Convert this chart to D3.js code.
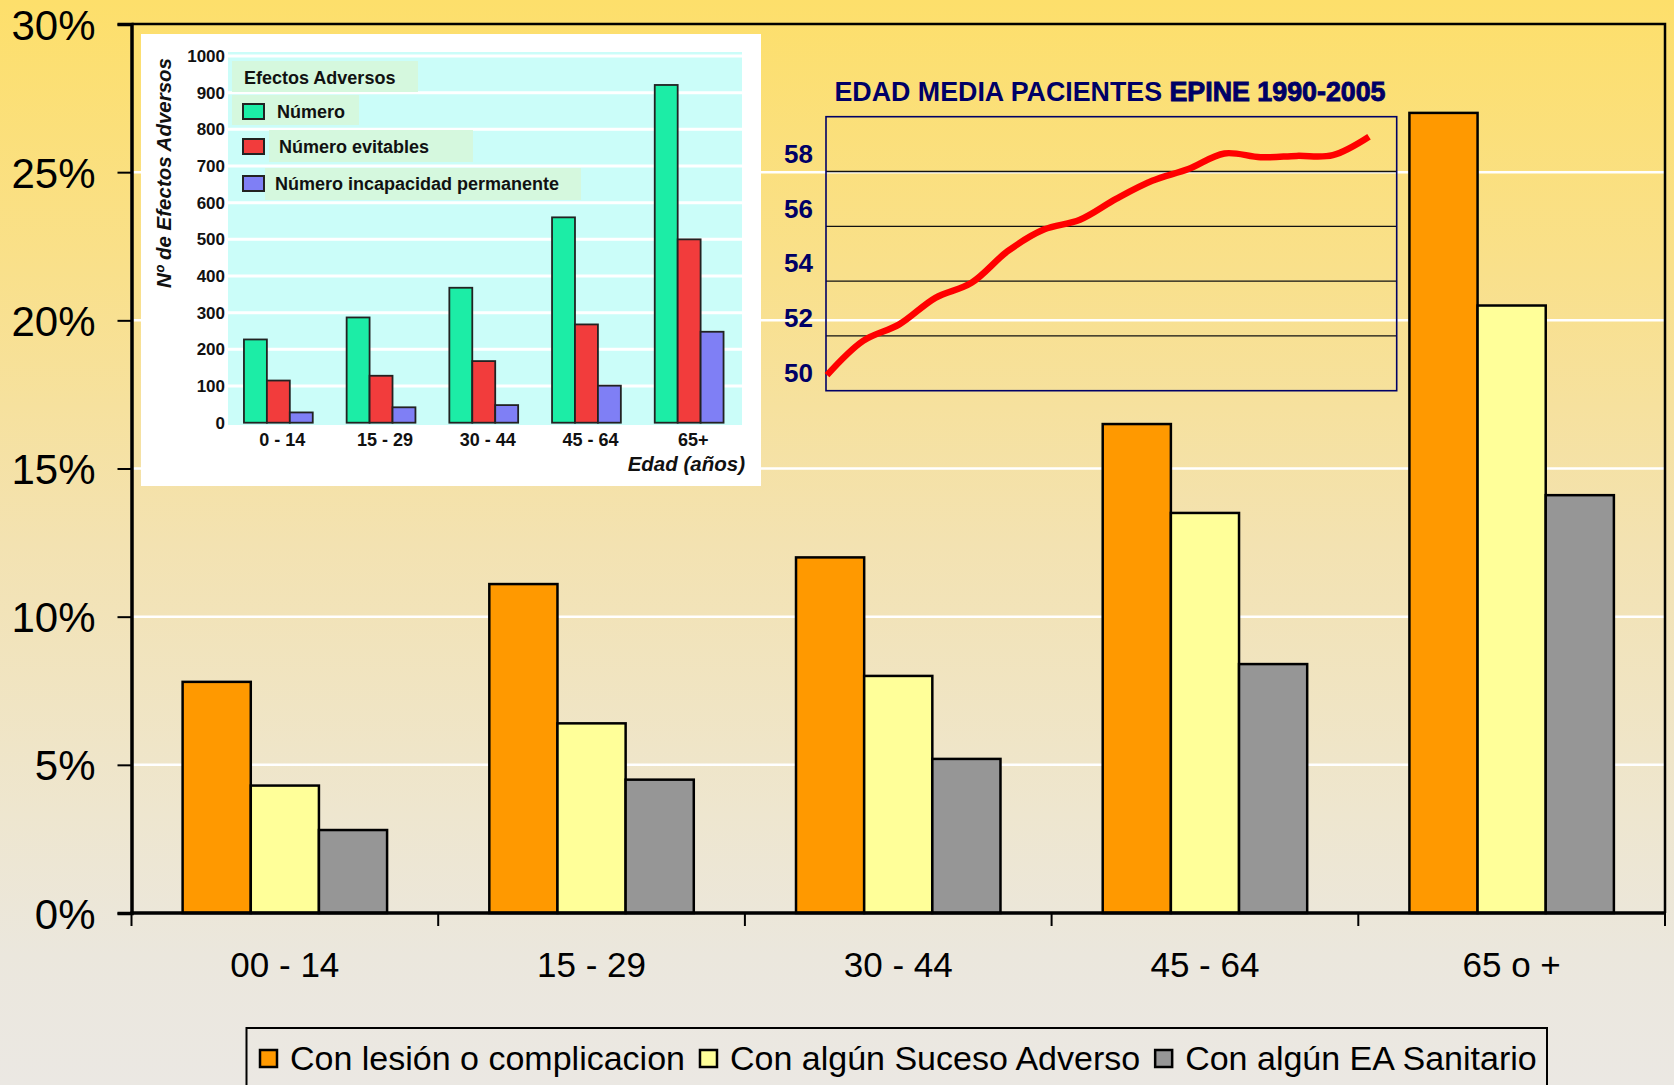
<!DOCTYPE html>
<html>
<head>
<meta charset="utf-8">
<script src="https://cdn.jsdelivr.net/npm/d3@7"></script>
<style>
  html, body { margin: 0; padding: 0; background: #EBE8E2; }
  svg { display: block; }
  text { font-family: "Liberation Sans", Arial, Helvetica, sans-serif; }
</style>
</head>
<body>
<svg id="chart" width="1674" height="1085"></svg>
<script>
// ---------- Main chart data ----------
const categories = ["00 - 14", "15 - 29", "30 - 44", "45 - 64", "65 o +"];
const seriesNames = ["Con lesión o complicacion", "Con algún Suceso Adverso", "Con algún EA Sanitario"];
const lesion    = [7.8, 11.1, 12.0, 16.5, 27.0];
const suceso    = [4.3, 6.4, 8.0, 13.5, 20.5];
const sanitario = [2.8, 4.5, 5.2, 8.4, 14.1];
const yTicks = [0, 5, 10, 15, 20, 25, 30];
const seriesColors = ["#FF9900", "#FFFF99", "#969696"];

// ---------- Inset 1 (Efectos Adversos) data ----------
const eaCategories = ["0 - 14", "15 - 29", "30 - 44", "45 - 64", "65+"];
const eaSeriesNames = ["Número", "Número evitables", "Número incapacidad permanente"];
const eaNumero      = [227, 287, 368, 560, 921];
const eaEvitables   = [115, 128, 168, 268, 500];
const eaIncapacidad = [28, 42, 48, 101, 248];
const eaTicks = [0, 100, 200, 300, 400, 500, 600, 700, 800, 900, 1000];
const eaColors = ["#1CEDA6", "#F23C3C", "#7F7FF5"];

// ---------- Inset 2 (Edad media) data ----------
const anios = [1990, 1991, 1992, 1993, 1994, 1995, 1996, 1997, 1998, 1999, 2000, 2001, 2002, 2003, 2004, 2005];
const edadMedia = [50.57, 51.82, 52.42, 53.39, 53.94, 55.09, 55.88, 56.24, 57.0, 57.66, 58.09, 58.66, 58.52, 58.57, 58.6, 59.27];
const edadTicks = [50, 52, 54, 56, 58];

const svg = d3.select("#chart");
const W = 1674, H = 1085;

// ---------- Background gradient ----------
const defs = svg.append("defs");
const grad = defs.append("linearGradient").attr("id", "bg").attr("x1", 0).attr("y1", 0).attr("x2", 0).attr("y2", 1);
[[0, "#FDDF6B"], [0.25, "#F9E08B"], [0.5, "#F3E2B1"], [0.75, "#EEE6CF"], [0.88, "#EBE7DD"], [1, "#EBE8E3"]]
  .forEach(([o, c]) => grad.append("stop").attr("offset", o).attr("stop-color", c));
svg.append("rect").attr("width", W).attr("height", H).attr("fill", "url(#bg)");

// ---------- Main scales ----------
const plotL = 131.5, plotR = 1665, plotT = 24, plotB = 913;
const x0 = d3.scaleBand().domain(categories).range([plotL, plotR]).paddingInner(1/3).paddingOuter(1/6);
const x1 = d3.scaleBand().domain(seriesNames).range([0, x0.bandwidth()]).padding(0);
const y = d3.scaleLinear().domain([0, 30]).range([plotB, plotT]);

// gridlines
svg.append("g").selectAll("line").data(yTicks.filter(t => t > 0 && t < 30)).join("line")
  .attr("x1", plotL).attr("x2", plotR).attr("y1", d => y(d)).attr("y2", d => y(d))
  .attr("stroke", "#FFFFFF").attr("stroke-width", 2.5);

// bars
const seriesData = [lesion, suceso, sanitario];
const groups = svg.append("g").selectAll("g").data(categories).join("g")
  .attr("transform", d => `translate(${x0(d)},0)`);
groups.selectAll("rect").data((c, i) => seriesNames.map((s, j) => ({ s, v: seriesData[j][i], j })))
  .join("rect")
  .attr("x", d => x1(d.s)).attr("width", x1.bandwidth())
  .attr("y", d => y(d.v)).attr("height", d => y(0) - y(d.v))
  .attr("fill", d => seriesColors[d.j]).attr("stroke", "#000").attr("stroke-width", 2.5);

// plot border (top/right)
svg.append("path").attr("d", `M${plotL},${plotT}H${plotR}V${plotB}`)
  .attr("fill", "none").attr("stroke", "#000").attr("stroke-width", 2.5);

// y axis
const yAxis = d3.axisLeft(y).tickValues(yTicks).tickSize(14).tickPadding(22).tickFormat(d => d + "%");
const gy = svg.append("g").attr("transform", `translate(${plotL},0)`).call(yAxis);
gy.select(".domain").attr("stroke", "#000").attr("stroke-width", 3.5);
gy.selectAll(".tick line").attr("stroke", "#000").attr("stroke-width", 2);
gy.selectAll(".tick text").attr("font-size", 42).attr("fill", "#000")
  .style("font-family", "'Liberation Sans', Arial, sans-serif").attr("dy", "0.36em");

// x axis baseline + ticks at category boundaries
svg.append("line").attr("x1", plotL - 1).attr("x2", plotR).attr("y1", plotB).attr("y2", plotB)
  .attr("stroke", "#000").attr("stroke-width", 3.5);
const edges = categories.map(c => x0(c) - x0.step() * x0.paddingOuter()).concat([plotR]);
svg.append("g").selectAll("line").data(edges).join("line")
  .attr("x1", d => d).attr("x2", d => d).attr("y1", plotB).attr("y2", plotB + 13)
  .attr("stroke", "#000").attr("stroke-width", 2);
svg.append("g").selectAll("text").data(categories).join("text")
  .attr("x", d => x0(d) + x0.bandwidth() / 2).attr("y", 977)
  .attr("text-anchor", "middle").attr("font-size", 35).attr("fill", "#000").text(d => d);

// legend
const lg = svg.append("g");
lg.append("rect").attr("x", 246.5).attr("y", 1028).attr("width", 1300.5).attr("height", 80)
  .attr("fill", "none").attr("stroke", "#000").attr("stroke-width", 2);
let lx = 260;
seriesNames.forEach((n, i) => {
  lg.append("rect").attr("x", lx).attr("y", 1050).attr("width", 17).attr("height", 17)
    .attr("fill", seriesColors[i]).attr("stroke", "#000").attr("stroke-width", 2.5);
  const t = lg.append("text").attr("x", lx + 30).attr("y", 1070).attr("font-size", 34).attr("fill", "#000").text(n);
  lx = lx + 30 + t.node().getComputedTextLength() + 15;
});

// ---------- Inset 1 ----------
const in1 = svg.append("g");
in1.append("rect").attr("x", 141).attr("y", 34).attr("width", 620).attr("height", 452).attr("fill", "#FFFFFF");
in1.append("rect").attr("x", 228).attr("y", 52).attr("width", 514).attr("height", 373).attr("fill", "#CBFDF9");
const ey = d3.scaleLinear().domain([0, 1000]).range([422.7, 56]);
const ex0 = d3.scaleBand().domain(eaCategories).range([227, 740.5]).paddingInner(0.33).paddingOuter(0.165);
const ex1 = d3.scaleBand().domain(eaSeriesNames).range([0, ex0.bandwidth()]).padding(0);
in1.append("g").selectAll("line").data(eaTicks.filter(t => t > 0)).join("line")
  .attr("x1", 228).attr("x2", 742).attr("y1", d => ey(d)).attr("y2", d => ey(d))
  .attr("stroke", "#FFFFFF").attr("stroke-width", 3);
// legend backgrounds
const lbg = "#D5F8DE";
[[232, 61, 186, 31], [232, 95, 127, 30], [269, 130, 204, 32], [265, 168, 316, 32]].forEach(r =>
  in1.append("rect").attr("x", r[0]).attr("y", r[1]).attr("width", r[2]).attr("height", r[3]).attr("fill", lbg));
in1.append("text").attr("x", 244).attr("y", 84).attr("font-size", 18).attr("font-weight", "bold").attr("fill", "#111").text("Efectos Adversos");
const eaLegendY = [112, 147, 184];
eaSeriesNames.forEach((n, i) => {
  in1.append("rect").attr("x", 243).attr("y", eaLegendY[i] - 8).attr("width", 21).attr("height", 15)
    .attr("fill", eaColors[i]).attr("stroke", "#222").attr("stroke-width", 2);
  in1.append("text").attr("x", i === 0 ? 277 : (i === 1 ? 279 : 275)).attr("y", eaLegendY[i] + 6)
    .attr("font-size", 18).attr("font-weight", "bold").attr("fill", "#111").text(n);
});
// bars
const eaData = [eaNumero, eaEvitables, eaIncapacidad];
in1.append("g").selectAll("g").data(eaCategories).join("g")
  .attr("transform", d => `translate(${ex0(d)},0)`)
  .selectAll("rect").data((c, i) => eaSeriesNames.map((s, j) => ({ s, v: eaData[j][i], j })))
  .join("rect")
  .attr("x", d => ex1(d.s)).attr("width", ex1.bandwidth())
  .attr("y", d => ey(d.v)).attr("height", d => ey(0) - ey(d.v))
  .attr("fill", d => eaColors[d.j]).attr("stroke", "#222").attr("stroke-width", 1.8);
// ticks
in1.append("g").selectAll("text").data(eaTicks).join("text")
  .attr("x", 225).attr("y", d => ey(d)).attr("dy", "0.35em").attr("text-anchor", "end")
  .attr("font-size", 17).attr("font-weight", "bold").attr("fill", "#111").text(d => d);
in1.append("g").selectAll("text").data(eaCategories).join("text")
  .attr("x", d => ex0(d) + ex0.bandwidth() / 2 + 4).attr("y", 446).attr("text-anchor", "middle")
  .attr("font-size", 18).attr("font-weight", "bold").attr("fill", "#111").text(d => d);
in1.append("text").attr("x", 745).attr("y", 471).attr("text-anchor", "end")
  .attr("font-size", 20.5).attr("font-weight", "bold").attr("font-style", "italic").attr("fill", "#111").text("Edad (años)");
in1.append("text").attr("transform", "translate(171,173) rotate(-90)").attr("text-anchor", "middle")
  .attr("font-size", 20.5).attr("font-weight", "bold").attr("font-style", "italic").attr("fill", "#111")
  .text("Nº de Efectos Adversos");

// ---------- Inset 2 ----------
const in2 = svg.append("g");
const navy = "#000066";
const ly = d3.scaleLinear().domain([50, 60]).range([390.7, 116.7]);
const lx2 = d3.scaleLinear().domain([1990, 2005]).range([827, 1369]);
const boxL = 826, boxR = 1396.7;
in2.append("g").selectAll("line").data(edadTicks.filter(t => t > 50)).join("line")
  .attr("x1", boxL).attr("x2", boxR).attr("y1", d => ly(d)).attr("y2", d => ly(d))
  .attr("stroke", "#111").attr("stroke-width", 1.3);
in2.append("rect").attr("x", boxL).attr("y", ly(60)).attr("width", boxR - boxL).attr("height", ly(50) - ly(60))
  .attr("fill", "none").attr("stroke", navy).attr("stroke-width", 1.6);
in2.append("g").selectAll("text").data(edadTicks).join("text")
  .attr("x", 813).attr("y", d => ly(d) - 18).attr("dy", "0.36em").attr("text-anchor", "end")
  .attr("font-size", 26).attr("font-weight", "bold").attr("fill", navy).text(d => d);
const line = d3.line().x((d, i) => lx2(anios[i])).y(d => ly(d)).curve(d3.curveCatmullRom.alpha(0.5));
in2.append("path").attr("d", line(edadMedia)).attr("fill", "none").attr("stroke", "#FF0000")
  .attr("stroke-width", 6.5).attr("stroke-linecap", "butt");
const title = in2.append("text").attr("x", 1110).attr("y", 101).attr("text-anchor", "middle")
  .attr("font-size", 26.8).attr("font-weight", "bold").attr("fill", navy);
title.append("tspan").text("EDAD MEDIA PACIENTES ");
title.append("tspan").attr("stroke", navy).attr("stroke-width", 0.9).text("EPINE 1990-2005");
</script>
</body>
</html>
